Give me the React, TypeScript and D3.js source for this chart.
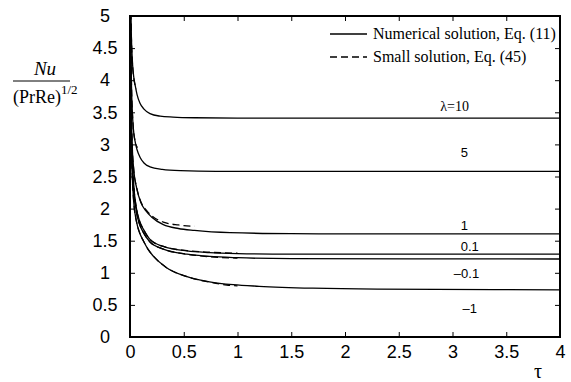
import React, { useEffect, useRef } from "react";
import * as d3 from "d3";

const width = 571;
const height = 382;
const margin = { top: 16, right: 11, bottom: 45, left: 130 };

// numerical solution, Eq. (11)  [tau, Nu/(PrRe)^1/2]
const lam10 = [[0.004, 5.4], [0.01, 4.85], [0.016, 4.52], [0.025, 4.22], [0.035, 4.05], [0.047, 3.93], [0.065, 3.78], [0.093, 3.64], [0.13, 3.55], [0.186, 3.48], [0.28, 3.44], [0.4, 3.425], [0.6, 3.415], [1, 3.41], [2, 3.41], [4, 3.41]];
const lam5 = [[0.003, 5.4], [0.008, 4.5], [0.014, 3.9], [0.022, 3.5], [0.031, 3.25], [0.047, 3.05], [0.065, 2.92], [0.093, 2.8], [0.13, 2.71], [0.186, 2.65], [0.3, 2.61], [0.47, 2.59], [0.8, 2.58], [1.5, 2.58], [4, 2.58]];
const lam1 = [[0.002, 5.4], [0.006, 4.3], [0.012, 3.5], [0.02, 3.0], [0.035, 2.6], [0.062, 2.32], [0.1, 2.1], [0.15, 1.96], [0.2, 1.87], [0.31, 1.75], [0.45, 1.69], [0.6, 1.66], [0.93, 1.625], [1.5, 1.61], [2.5, 1.605], [4, 1.605]];
const lam01 = [[0.002, 5.4], [0.006, 4.1], [0.012, 3.3], [0.02, 2.8], [0.035, 2.35], [0.06, 2.0], [0.09, 1.8], [0.124, 1.68], [0.186, 1.52], [0.31, 1.41], [0.53, 1.34], [0.74, 1.315], [1, 1.3], [1.5, 1.29], [4, 1.29]];
const lamM01 = [[0.002, 5.4], [0.006, 4.05], [0.012, 3.25], [0.02, 2.75], [0.035, 2.3], [0.06, 1.95], [0.09, 1.75], [0.124, 1.63], [0.186, 1.48], [0.31, 1.37], [0.53, 1.29], [0.74, 1.255], [1, 1.235], [1.5, 1.22], [4, 1.215]];
const lamM1 = [[0.002, 5.3], [0.006, 3.9], [0.012, 3.05], [0.02, 2.55], [0.035, 2.1], [0.06, 1.8], [0.09, 1.62], [0.124, 1.5], [0.17, 1.36], [0.217, 1.26], [0.34, 1.08], [0.53, 0.94], [0.74, 0.86], [0.96, 0.815], [1.2, 0.79], [1.7, 0.76], [2.3, 0.745], [4, 0.735]];

// small-time solution, Eq. (45)
const small10 = [[0.004, 5.4], [0.01, 4.85], [0.016, 4.5], [0.025, 4.2], [0.035, 4.03], [0.047, 3.92], [0.06, 3.86]];
const small5 = [[0.003, 5.4], [0.008, 4.5], [0.014, 3.9], [0.022, 3.5], [0.031, 3.25], [0.047, 3.05], [0.07, 2.95]];
const small1 = [[0.002, 5.4], [0.006, 4.3], [0.012, 3.5], [0.02, 3.0], [0.035, 2.6], [0.062, 2.33], [0.1, 2.11], [0.15, 1.98], [0.2, 1.89], [0.31, 1.79], [0.45, 1.745], [0.6, 1.725]];
const small01 = [[0.002, 5.4], [0.006, 4.1], [0.012, 3.3], [0.02, 2.8], [0.035, 2.35], [0.06, 2.0], [0.09, 1.8], [0.124, 1.68], [0.186, 1.52], [0.31, 1.41], [0.53, 1.345], [0.74, 1.32], [1, 1.305]];
const smallM01 = [[0.002, 5.4], [0.006, 4.05], [0.012, 3.25], [0.02, 2.75], [0.035, 2.3], [0.06, 1.95], [0.09, 1.75], [0.124, 1.63], [0.186, 1.48], [0.31, 1.37], [0.53, 1.29], [0.74, 1.25], [1, 1.23]];
const smallM1 = [[0.002, 5.3], [0.006, 3.9], [0.012, 3.05], [0.02, 2.55], [0.035, 2.1], [0.06, 1.8], [0.09, 1.62], [0.124, 1.5], [0.17, 1.36], [0.217, 1.26], [0.34, 1.08], [0.53, 0.94], [0.74, 0.855], [0.9, 0.81], [1, 0.795]];

const numerical = [lam10, lam5, lam1, lam01, lamM01, lamM1];
const small = [small10, small5, small1, small01, smallM01, smallM1];

// curve labels, placed in data units
const curveLabels = ["λ=10", "5", "1", "0.1", "–0.1", "–1"];
const labelTau = [3.02, 3.11, 3.11, 3.16, 3.13, 3.16];
const labelVal = [3.52, 2.8, 1.67, 1.34, 0.92, 0.37];

const xTicks = [0, 0.5, 1, 1.5, 2, 2.5, 3, 3.5, 4];
const yTicks = [0, 0.5, 1, 1.5, 2, 2.5, 3, 3.5, 4, 4.5, 5];

const Chart = () => {
  const ref = useRef<SVGSVGElement>(null);

  useEffect(() => {
    const svg = d3.select(ref.current);
    svg.selectAll("*").remove();

    const x = d3.scaleLinear().domain([0, 4]).range([margin.left, width - margin.right]);
    const y = d3.scaleLinear().domain([0, 5]).range([height - margin.bottom, margin.top]);
    const fmt = (d: any) => String(d);
    const sans = "'Liberation Sans', Arial, sans-serif";
    const serif = "'Liberation Serif', 'Times New Roman', serif";

    svg.append("clipPath").attr("id", "plotclip")
      .append("rect")
      .attr("x", x(0)).attr("y", y(5))
      .attr("width", x(4) - x(0)).attr("height", y(0) - y(5));

    // axes with inward ticks on all four sides
    svg.append("g")
      .attr("transform", `translate(0,${y(0)})`)
      .call(d3.axisBottom(x).tickValues(xTicks).tickFormat(fmt).tickSizeInner(-5).tickSizeOuter(0).tickPadding(8));
    const yAxis = svg.append("g")
      .attr("transform", `translate(${x(0)},0)`)
      .call(d3.axisLeft(y).tickValues(yTicks).tickFormat(fmt).tickSizeInner(-5).tickSizeOuter(0));
    svg.append("g")
      .attr("transform", `translate(0,${y(5)})`)
      .call(d3.axisTop(x).tickValues(xTicks).tickFormat(() => "").tickSizeInner(-5).tickSizeOuter(0));
    svg.append("g")
      .attr("transform", `translate(${x(4)},0)`)
      .call(d3.axisRight(y).tickValues(yTicks).tickFormat(() => "").tickSizeInner(-5).tickSizeOuter(0));

    svg.selectAll(".domain").remove();
    svg.selectAll(".tick line").attr("stroke", "#000").attr("stroke-width", 1);
    svg.selectAll(".tick text")
      .attr("fill", "#000")
      .attr("font-family", sans)
      .attr("font-size", 18);
    yAxis.selectAll(".tick text").attr("text-anchor", "middle").attr("x", -25);

    svg.append("rect")
      .attr("x", x(0)).attr("y", y(5))
      .attr("width", x(4) - x(0)).attr("height", y(0) - y(5))
      .attr("fill", "none").attr("stroke", "#000").attr("stroke-width", 2);

    const line = d3.line<number[]>()
      .x((d) => x(d[0]))
      .y((d) => y(d[1]))
      .curve(d3.curveMonotoneX);

    const curves = svg.append("g").attr("clip-path", "url(#plotclip)");
    curves.selectAll("path.num")
      .data(numerical)
      .enter()
      .append("path")
      .attr("class", "num")
      .attr("d", (d) => line(d))
      .attr("fill", "none")
      .attr("stroke", "#000")
      .attr("stroke-width", 1.3);
    curves.selectAll("path.small")
      .data(small)
      .enter()
      .append("path")
      .attr("class", "small")
      .attr("d", (d) => line(d))
      .attr("fill", "none")
      .attr("stroke", "#000")
      .attr("stroke-width", 1.3)
      .attr("stroke-dasharray", "7 4");

    // curve labels
    svg.selectAll("text.lab")
      .data(curveLabels)
      .enter()
      .append("text")
      .attr("class", "lab")
      .attr("x", (d, i) => x(labelTau[i]))
      .attr("y", (d, i) => y(labelVal[i]))
      .attr("text-anchor", "middle")
      .attr("font-family", (d, i) => (i === 0 ? serif : sans))
      .attr("font-size", (d, i) => (i === 0 ? 14 : 13))
      .text((d) => d);

    // legend
    const legend = svg.append("g");
    const entries = ["Numerical solution, Eq. (11)", "Small solution, Eq. (45)"];
    entries.forEach((t, i) => {
      const ly = 34 + i * 23;
      legend.append("line")
        .attr("x1", 330).attr("x2", 367).attr("y1", ly).attr("y2", ly)
        .attr("stroke", "#000").attr("stroke-width", 1.3)
        .attr("stroke-dasharray", i === 1 ? "7 4" : null);
      legend.append("text")
        .attr("x", 373).attr("y", ly + 5)
        .attr("font-family", serif)
        .attr("font-size", 16)
        .text(t);
    });

    // axis titles
    svg.append("text")
      .attr("x", 45).attr("y", 75)
      .attr("text-anchor", "middle")
      .attr("font-family", serif).attr("font-style", "italic").attr("font-size", 19)
      .text("Nu");
    svg.append("line")
      .attr("x1", 13).attr("x2", 70).attr("y1", 81).attr("y2", 81)
      .attr("stroke", "#000").attr("stroke-width", 1);
    const den = svg.append("text")
      .attr("x", 13).attr("y", 103)
      .attr("font-family", serif).attr("font-size", 18);
    den.append("tspan").text("(PrRe)");
    den.append("tspan").attr("dy", -9).attr("font-size", 13).text("1/2");

    svg.append("text")
      .attr("x", 538).attr("y", 378)
      .attr("text-anchor", "middle")
      .attr("font-family", serif).attr("font-size", 20)
      .text("τ");
  }, []);

  return (
    <svg
      ref={ref}
      width={width}
      height={height}
      style={{ position: "absolute", left: 0, top: 0, display: "block", background: "#fff" }}
    />
  );
};

export default function App() {
  return <Chart />;
}
